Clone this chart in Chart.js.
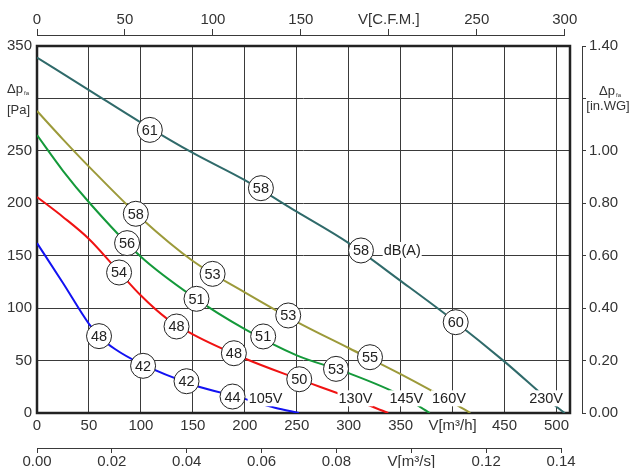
<!DOCTYPE html>
<html>
<head>
<meta charset="utf-8">
<script src="https://cdn.jsdelivr.net/npm/chart.js@4.4.0/dist/chart.umd.min.js"></script>
<style>
  body { margin: 0; background: #fff; }
  canvas { display: block; }
</style>
</head>
<body>
<canvas id="chart" width="630" height="468"></canvas>
<script>
// fan curves, flow in m3/h, pressure in Pa
var flow230 = [0, 50, 100, 150, 200, 250, 300, 350, 400, 450, 500, 508]
var pres230 = [339, 308, 277, 248, 222, 192, 162, 126, 89, 49, 6, 0]
var flow160 = [0, 25, 50, 100, 150, 200, 250, 300, 350, 400, 417]
var pres160 = [288, 261, 235, 186, 145, 115, 87, 62, 37, 10, 0]
var flow145 = [0, 25, 50, 100, 150, 200, 250, 300, 350, 378]
var pres145 = [265, 231, 201, 149, 111, 80, 55, 38, 17, 0]
var flow130 = [0, 25, 50, 75, 100, 125, 150, 200, 250, 300, 338]
var pres130 = [206, 187, 166, 139, 112, 90, 75, 52, 33, 15, 0]
var flow105 = [0, 25, 50, 60, 75, 100, 150, 200, 229, 252]
var pres105 = [162, 124, 85, 73, 61, 47, 27, 13.5, 5, 0]

// noise level markers dB(A)
var dbFlow = [108.6, 215.5, 311.8, 403, 95.1, 169, 241.8, 320.5, 86.7, 153.5, 217.7, 287.8, 79, 134.3, 189.5, 252.4, 59.7, 102.1, 143.9, 188.2]
var dbPres = [270, 214.4, 155, 86.6, 190, 132.7, 93, 53.2, 162, 108.9, 73, 42.1, 134, 82.5, 57, 32.2, 73.3, 45, 30.3, 15.7]
var dbText = ['61', '58', '58', '60', '58', '53', '53', '55', '56', '51', '51', '53', '54', '48', '48', '50', '48', '42', '42', '44']

var voltText = ['105V', '130V', '145V', '160V', '230V']
var voltFlow = [220, 306.5, 355.5, 396.5, 490]
var voltPres = [14, 14, 14, 14, 14]

var xMax = 513      // m3/h at right edge
var xcMax = 303     // CFM at right edge
var xsMax = 0.1424  // m3/s at right edge

var FONT = "'Liberation Sans', Arial, sans-serif"
var GRID = '#3a3a3a'
var TXT = '#333'

function pts(xs, ys) {
  var out = []
  for (var i = 0; i < xs.length; i++) out.push({x: xs[i], y: ys[i]})
  return out
}

function curve(label, xs, ys, color) {
  return {
    type: 'line', label: label, data: pts(xs, ys),
    borderColor: color, borderWidth: 2, pointRadius: 0,
    cubicInterpolationMode: 'monotone', order: 2,
    xAxisID: 'x', yAxisID: 'y'
  }
}

var annot = {
  id: 'annot',
  beforeDatasetsDraw: function(chart) {
    var a = chart.chartArea, ctx = chart.ctx
    ctx.save()
    ctx.strokeStyle = '#222'
    ctx.lineWidth = 2.5
    ctx.strokeRect(a.left, a.top, a.right - a.left, a.bottom - a.top)
    ctx.restore()
  },
  afterDatasetsDraw: function(chart) {
    var ctx = chart.ctx, sx = chart.scales.x, sy = chart.scales.y
    ctx.save()
    // numbers in circles
    var meta = chart.getDatasetMeta(5)
    ctx.fillStyle = '#222'
    ctx.font = '14.5px ' + FONT
    ctx.textAlign = 'center'
    ctx.textBaseline = 'middle'
    meta.data.forEach(function(p, i) {
      ctx.fillText(dbText[i], p.x, p.y + 1)
    })
    // voltage labels on white
    function boxed(t, x, y) {
      var w = ctx.measureText(t).width
      ctx.fillStyle = '#fff'
      ctx.fillRect(x - w / 2 - 1, y - 8, w + 2, 16)
      ctx.fillStyle = '#222'
      ctx.fillText(t, x, y + 1)
    }
    for (var i = 0; i < voltText.length; i++) {
      boxed(voltText[i], sx.getPixelForValue(voltFlow[i]), sy.getPixelForValue(voltPres[i]))
    }
    boxed('dB(A)', sx.getPixelForValue(351.5), sy.getPixelForValue(155.5))
    ctx.restore()
  },
  afterDraw: function(chart) {
    var ctx = chart.ctx, s = chart.scales
    ctx.save()
    ctx.strokeStyle = GRID
    ctx.lineWidth = 1
    // top CFM axis line
    var yc = Math.round(s.xc.bottom) - 0.5
    ctx.beginPath()
    ctx.moveTo(s.xc.getPixelForValue(0), yc)
    ctx.lineTo(s.xc.getPixelForValue(300), yc)
    ctx.stroke()
    // bottom m3/s axis line
    var ys = Math.round(s.xs.top) + 0.5
    ctx.beginPath()
    ctx.moveTo(s.xs.getPixelForValue(0), ys)
    ctx.lineTo(s.xs.getPixelForValue(0.14), ys)
    ctx.stroke()
    // pressure titles
    ctx.fillStyle = TXT
    ctx.textBaseline = 'middle'
    function dp(xRight, y) {
      ctx.font = '13px ' + FONT
      ctx.textAlign = 'right'
      ctx.fillText('Δp', xRight - 5, y)
      ctx.font = '6px ' + FONT
      ctx.textAlign = 'left'
      ctx.fillText('fa', xRight - 4, y + 4)
    }
    var y300 = s.y.getPixelForValue(300)
    dp(28, y300 - 9)
    ctx.font = '13px ' + FONT
    ctx.textAlign = 'center'
    ctx.fillText('[Pa]', 18.5, y300 + 12)
    dp(620, y300 - 7)
    ctx.font = '13px ' + FONT
    ctx.textAlign = 'center'
    ctx.fillText('[in.WG]', 608, y300 + 8)
    ctx.restore()
  }
}

function tickFont() { return {family: FONT, size: 15} }

new Chart(document.getElementById('chart').getContext('2d'), {
  type: 'line',
  data: {
    datasets: [
      curve('230V', flow230, pres230, '#2f6a6a'),
      curve('160V', flow160, pres160, '#9c9a3a'),
      curve('145V', flow145, pres145, '#14993a'),
      curve('130V', flow130, pres130, '#f01212'),
      curve('105V', flow105, pres105, '#1212f2'),
      {
        type: 'scatter', label: 'dB(A)', data: pts(dbFlow, dbPres),
        pointRadius: 12.5, pointBackgroundColor: '#fff', pointBorderColor: '#222',
        pointBorderWidth: 1, showLine: false, order: 1,
        xAxisID: 'x', yAxisID: 'y'
      }
    ]
  },
  options: {
    responsive: false,
    animation: false,
    devicePixelRatio: 1,
    layout: { padding: 0 },
    plugins: { legend: { display: false }, tooltip: { enabled: false } },
    scales: {
      x: {
        type: 'linear', axis: 'x', position: 'bottom', min: 0, max: xMax, weight: 0,
        ticks: {
          stepSize: 50, includeBounds: false, autoSkip: false, maxRotation: 0,
          padding: 4, color: TXT, font: tickFont(),
          callback: function(v) { return v === 400 ? 'V[m³/h]' : v }
        },
        grid: { color: GRID, drawTicks: false },
        border: { display: false },
        afterFit: function(s) { s.height = 35 }
      },
      xs: {
        type: 'linear', axis: 'x', position: 'bottom', min: 0, max: xsMax, weight: 1,
        ticks: {
          stepSize: 0.02, includeBounds: false, autoSkip: false, maxRotation: 0,
          padding: 0, color: TXT, font: tickFont(),
          callback: function(v) { return Math.abs(v - 0.1) < 1e-9 ? 'V[m³/s]' : v.toFixed(2) }
        },
        grid: { drawOnChartArea: false, tickLength: 5, color: GRID },
        border: { display: false },
        afterFit: function(s) { s.height = 20 }
      },
      gapTop: {
        type: 'linear', axis: 'x', position: 'top', weight: 0,
        ticks: { display: false }, grid: { display: false }, border: { display: false },
        afterFit: function(s) { s.height = 10 }
      },
      xc: {
        type: 'linear', axis: 'x', position: 'top', min: 0, max: xcMax, weight: 1,
        ticks: {
          stepSize: 50, includeBounds: false, autoSkip: false, maxRotation: 0,
          padding: 0, color: TXT, font: tickFont(),
          callback: function(v) { return v === 200 ? 'V[C.F.M.]' : v }
        },
        grid: { drawOnChartArea: false, tickLength: 7, color: GRID },
        border: { display: false },
        afterFit: function(s) { s.height = 36 }
      },
      y: {
        type: 'linear', axis: 'y', position: 'left', min: 0, max: 350,
        ticks: {
          stepSize: 50, padding: 5, color: TXT, font: tickFont(),
          callback: function(v) { return v === 300 ? '' : v }
        },
        grid: { color: GRID, drawTicks: false },
        border: { display: false },
        afterFit: function(s) { s.width = 37 }
      },
      gapRight: {
        type: 'linear', axis: 'y', position: 'right', weight: 0,
        ticks: { display: false }, grid: { display: false }, border: { display: false },
        afterFit: function(s) { s.width = 12 }
      },
      yi: {
        type: 'linear', axis: 'y', position: 'right', min: 0, max: 1.4, weight: 1,
        ticks: {
          stepSize: 0.2, padding: 3, color: TXT, font: tickFont(),
          callback: function(v) { return Math.abs(v - 1.2) < 1e-9 ? '' : v.toFixed(2) }
        },
        grid: { drawOnChartArea: false, tickLength: 4, color: GRID },
        border: { display: true, color: GRID, width: 1 },
        afterFit: function(s) { s.width = 48 }
      }
    }
  },
  plugins: [annot]
})
</script>
</body>
</html>
